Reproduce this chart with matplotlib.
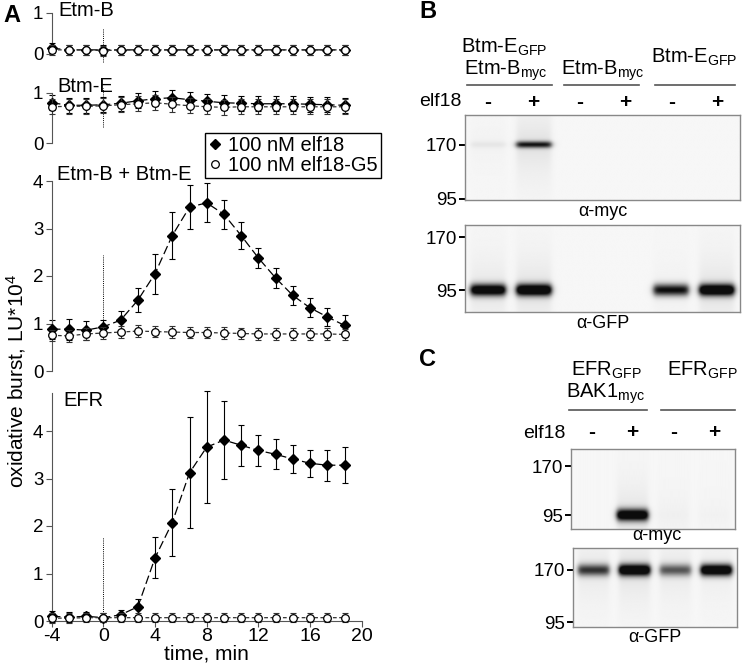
import numpy as np
import matplotlib.pyplot as plt
from matplotlib import transforms
from matplotlib.lines import Line2D

plt.rcParams['font.family'] = ['Liberation Sans', 'DejaVu Sans']
plt.rcParams['mathtext.fontset'] = 'custom'
plt.rcParams['mathtext.rm'] = 'Liberation Sans'
plt.rcParams['mathtext.it'] = 'Liberation Sans:italic'
plt.rcParams['axes.unicode_minus'] = False

# ---- data: oxidative burst time courses (LU*10^4) ----
time_min = [-4, -2.67, -1.33, 0, 1.33, 2.67, 4, 5.33, 6.67, 8, 9.33,
            10.67, 12, 13.33, 14.67, 16, 17.33, 18.67]

etmb_elf18 = [0.14, 0.1, 0.1, 0.1, 0.1, 0.1, 0.1, 0.1, 0.1, 0.1, 0.1,
              0.1, 0.1, 0.1, 0.1, 0.1, 0.1, 0.1]
etmb_g5 = [0.1, 0.1, 0.1, 0.08, 0.1, 0.1, 0.1, 0.1, 0.1, 0.1, 0.1,
           0.1, 0.1, 0.1, 0.1, 0.1, 0.1, 0.1]
etmb_err = [0.12] * 18

btme_elf18 = [0.8, 0.75, 0.75, 0.76, 0.79, 0.84, 0.88, 0.9, 0.86, 0.83,
              0.8, 0.79, 0.78, 0.78, 0.78, 0.77, 0.76, 0.75]
btme_g5 = [0.72, 0.73, 0.73, 0.74, 0.76, 0.78, 0.8, 0.77, 0.74, 0.72,
           0.71, 0.72, 0.72, 0.72, 0.72, 0.72, 0.72, 0.72]
btme_err = [0.15] * 18

both_elf18 = [0.88, 0.88, 0.86, 0.93, 1.07, 1.49, 2.05, 2.85, 3.45, 3.54,
              3.3, 2.85, 2.38, 1.96, 1.59, 1.33, 1.14, 0.96]
both_elf18_err = [0.2, 0.22, 0.2, 0.15, 0.2, 0.25, 0.42, 0.49, 0.46, 0.41,
                  0.31, 0.28, 0.22, 0.21, 0.21, 0.2, 0.19, 0.22]
both_g5 = [0.75, 0.74, 0.78, 0.8, 0.82, 0.84, 0.83, 0.82, 0.81, 0.81,
           0.8, 0.79, 0.78, 0.78, 0.78, 0.78, 0.78, 0.77]
both_g5_err = [0.12] * 18

efr_elf18 = [0.1, 0.08, 0.1, 0.07, 0.13, 0.3, 1.33, 2.07, 3.12, 3.66,
             3.81, 3.7, 3.59, 3.51, 3.41, 3.32, 3.28, 3.28]
efr_elf18_err = [0.12, 0.1, 0.1, 0.1, 0.1, 0.17, 0.43, 0.71, 1.17, 1.18,
                 0.83, 0.43, 0.32, 0.32, 0.3, 0.29, 0.33, 0.38]
efr_g5 = [0.06, 0.06, 0.07, 0.07, 0.07, 0.07, 0.07, 0.07, 0.07, 0.07,
          0.07, 0.07, 0.07, 0.07, 0.07, 0.07, 0.07, 0.07]
efr_g5_err = [0.1] * 18

# elicitor added at t = 0 (dotted marker, y extent per panel)
stim_span = {'Etm-B': (-0.2, 0.63), 'Btm-E': (0.32, 1.09),
             'Etm-B + Btm-E': (0.72, 2.44), 'EFR': (0.06, 1.77)}

# ---- data: western blots (relative band intensity per lane) ----
b_signs = ['-', '+', '-', '+', '-', '+']
b_myc_band = [0.05, 0.85, 0, 0, 0, 0]
b_myc_smear = [0.02, 0.1, 0, 0, 0.0, 0.0]
b_gfp_band = [1.2, 1.3, 0, 0, 0.95, 1.3]
b_gfp_smear = [0.08, 0.1, 0, 0, 0.03, 0.1]

c_signs = ['-', '+', '-', '+']
c_myc_band = [0.0, 1.2, 0, 0]
c_myc_smear = [0.0, 0.1, 0.03, 0.02]
c_gfp_band = [0.75, 1.3, 0.6, 1.3]
c_gfp_smear = [0.07, 0.1, 0.07, 0.05]

W, H = 742, 666
fig = plt.figure(figsize=(W / 100, H / 100), dpi=100)


def rect(left, top, right, bottom):
    return [left / W, 1 - bottom / H, (right - left) / W, (bottom - top) / H]


def fx(px):
    return px / W


def fy(py):
    return 1 - py / H


SPINE = '#555555'


def burst_panel(r, ylim, yticks, title, title_xy, elf, elf_err, g5, g5_err,
                bottom_axis=False):
    ax = fig.add_axes(r)
    ax.set_xlim(-4, 20)
    ax.set_ylim(*ylim)
    ax.errorbar(time_min, elf, yerr=elf_err, fmt='none', ecolor='black',
                elinewidth=0.8, capsize=2, capthick=0.8, clip_on=False, zorder=2)
    ax.plot(time_min, elf, color='black', lw=0.9, dashes=(7, 3), zorder=2,
            clip_on=False)
    ax.plot(time_min, elf, 'D', color='black', ms=4.6, clip_on=False, zorder=3)
    ax.errorbar(time_min, g5, yerr=g5_err, fmt='none', ecolor='#333333',
                elinewidth=0.8, capsize=2, capthick=0.8, clip_on=False, zorder=4)
    ax.plot(time_min, g5, color='#333333', lw=0.9, dashes=(3, 2), zorder=4,
            clip_on=False)
    ax.plot(time_min, g5, 'o', mfc='white', mec='black', mew=0.9, ms=5.5,
            clip_on=False, zorder=5)
    lo, hi = stim_span[title]
    ax.plot([0, 0], [lo, hi], color='black', lw=0.7, ls=(0, (1, 1.2)),
            clip_on=False, zorder=1)
    for s in ['top', 'right']:
        ax.spines[s].set_visible(False)
    ax.spines['left'].set_color(SPINE)
    ax.set_yticks(yticks)
    ax.tick_params(axis='y', direction='out', length=4, color=SPINE,
                   labelsize=13.5, pad=2)
    if bottom_axis:
        ax.spines['bottom'].set_color(SPINE)
        ax.set_xticks([-4, 0, 4, 8, 12, 16, 20])
        ax.tick_params(axis='x', direction='out', length=4, color=SPINE,
                       labelsize=14, pad=1)
        ax.set_xlabel('time, min', fontsize=15, labelpad=0)
    else:
        ax.spines['bottom'].set_visible(False)
        ax.set_xticks([])
    fig.text(fx(title_xy[0]), fy(title_xy[1]), title, fontsize=14.5,
             ha='left', va='center')
    return ax


X0, X1 = 51.7, 361.7
burst_panel(rect(X0, 12.7, X1, 54), (0, 1), [0, 1], 'Etm-B', (58, 11),
            etmb_elf18, etmb_err, etmb_g5, etmb_err)
burst_panel(rect(X0, 92.7, X1, 143), (0, 1), [0, 1], 'Btm-E', (57, 86),
            btme_elf18, btme_err, btme_g5, btme_err)
burst_panel(rect(X0, 181, X1, 371), (0, 4), [0, 1, 2, 3, 4], 'Etm-B + Btm-E',
            (57, 175), both_elf18, both_elf18_err, both_g5, both_g5_err)
burst_panel(rect(X0, 393, X1, 621), (0, 4.8), [0, 1, 2, 3, 4], 'EFR',
            (63, 401), efr_elf18, efr_elf18_err, efr_g5, efr_g5_err,
            bottom_axis=True)

handles = [Line2D([], [], marker='D', color='black', ls='none', ms=4.6),
           Line2D([], [], marker='o', mfc='white', mec='black', ls='none',
                  ms=5.5, mew=0.9)]
leg = fig.legend(handles, ['100 nM elf18', '100 nM elf18-G5'],
                 loc='upper left', bbox_to_anchor=(fx(205), fy(133)),
                 borderaxespad=0, borderpad=0.15, fancybox=False,
                 handlelength=0.7, handletextpad=0.3, labelspacing=0.05,
                 fontsize=14.5, framealpha=1)
leg.get_frame().set_edgecolor('black')
leg.get_frame().set_linewidth(1)

fig.text(fx(16), fy(381), 'oxidative burst, LU*10$^4$', rotation=90,
         ha='center', va='center', fontsize=15)


# ---- blots ----
def blot(r, ylim, band_kda, band_sig, bands, smears):
    ax = fig.add_axes(r)
    n = len(bands)
    xs = np.linspace(0, n, 400)
    ys = np.linspace(ylim[0], ylim[1], 240)
    X, Y = np.meshgrid(xs, ys)
    img = np.full(X.shape, 0.035)
    yb = np.log10(band_kda)
    for i, (a, s) in enumerate(zip(bands, smears)):
        c = i + 0.5
        lane = 0.5 * (np.tanh((X - (c - 0.38)) / 0.07) - np.tanh((X - (c + 0.38)) / 0.07))
        band = a * np.exp(-(Y - yb) ** 2 / (2 * band_sig ** 2))
        smear = s * np.exp(-np.abs(Y - yb) / 0.12)
        img += lane * (smear + band)
    img = np.clip(img, 0, 1)
    ax.imshow(img, cmap='gray_r', vmin=0, vmax=1.05, aspect='auto',
              origin='lower', extent=[0, n, ylim[0], ylim[1]],
              interpolation='bilinear')
    ax.set_xlim(0, n)
    ax.set_ylim(*ylim)
    ax.set_xticks([])
    ax.set_yticks([np.log10(170), np.log10(95)])
    ax.set_yticklabels(['170', '95'])
    ax.tick_params(axis='y', direction='out', length=4, width=1.4,
                   color='black', labelsize=13.5, pad=2)
    for s in ax.spines.values():
        s.set_color('#888888')
        s.set_linewidth(1)
    return ax


def lane_text(ax, x, py, s, **kw):
    tr = transforms.blended_transform_factory(ax.transData, fig.transFigure)
    ax.text(x, fy(py), s, transform=tr, ha='center', va='center', **kw)


def group_line(ax, x0, x1, py):
    tr = transforms.blended_transform_factory(ax.transData, fig.transFigure)
    ax.add_line(Line2D([x0, x1], [fy(py), fy(py)], transform=tr,
                       color='#555555', lw=1.2, clip_on=False))


# panel B
bm = blot(rect(465, 115, 740, 200), (1.972, 2.368), 170, 0.011,
          b_myc_band, b_myc_smear)
bg = blot(rect(465, 225, 740, 312), (1.873, 2.288), 95, 0.02,
          b_gfp_band, b_gfp_smear)
for i, s in enumerate(b_signs):
    lane_text(bm, i + 0.5, 102, s, fontsize=15, fontweight='bold')
fig.text(fx(462), fy(102), 'elf18', ha='right', va='center', fontsize=14)
group_line(bm, 0.05, 1.9, 85)
group_line(bm, 2.15, 3.8, 85)
group_line(bm, 4.15, 5.9, 85)
lane_text(bm, 0.85, 47, r'Btm-E$_\mathregular{GFP}$', fontsize=14.5)
lane_text(bm, 0.9, 71, r'Etm-B$_\mathregular{myc}$', fontsize=14.5)
lane_text(bm, 3.0, 71, r'Etm-B$_\mathregular{myc}$', fontsize=14.5)
lane_text(bm, 5.0, 57, r'Btm-E$_\mathregular{GFP}$', fontsize=14.5)
lane_text(bm, 3.0, 212, 'α-myc', fontsize=13)
lane_text(bg, 3.0, 323, 'α-GFP', fontsize=13)

# panel C
cm = blot(rect(571, 449, 735, 529), (1.906, 2.318), 95, 0.022,
          c_myc_band, c_myc_smear)
cg = blot(rect(573, 548, 737, 627), (1.954, 2.337), 170, 0.02,
          c_gfp_band, c_gfp_smear)
for i, s in enumerate(c_signs):
    lane_text(cm, i + 0.5, 433, s, fontsize=15, fontweight='bold')
fig.text(fx(566), fy(433), 'elf18', ha='right', va='center', fontsize=14)
group_line(cm, -0.05, 1.85, 410)
group_line(cm, 2.2, 4.0, 410)
lane_text(cm, 0.85, 370, r'EFR$_\mathregular{GFP}$', fontsize=14.5)
lane_text(cm, 0.85, 394, r'BAK1$_\mathregular{myc}$', fontsize=14.5)
lane_text(cm, 3.2, 370, r'EFR$_\mathregular{GFP}$', fontsize=14.5)
lane_text(cm, 2.1, 536, 'α-myc', fontsize=13)
lane_text(cg, 2.0, 638, 'α-GFP', fontsize=13)

# panel letters
for letter, px, py in [('A', 12, 16), ('B', 428, 12), ('C', 428, 359)]:
    fig.text(fx(px), fy(py), letter, fontsize=17, fontweight='bold',
             ha='center', va='center')

fig.savefig('out.png', dpi=100)
